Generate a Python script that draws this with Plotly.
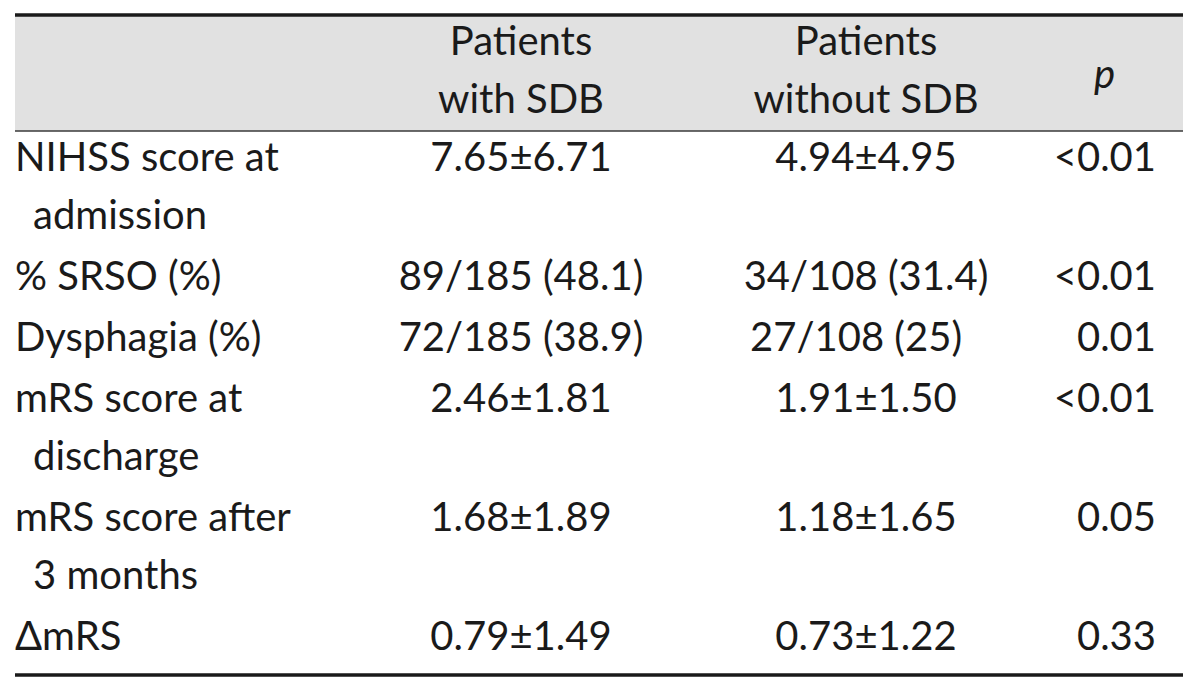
import plotly.graph_objects as go

# table content
header_with = ["Patients", "with SDB"]
header_without = ["Patients", "without SDB"]
header_p = "p"
row_labels = [
    ["NIHSS score at", "admission"],
    ["% SRSO (%)"],
    ["Dysphagia (%)"],
    ["mRS score at", "discharge"],
    ["mRS score after", "3 months"],
    ["ΔmRS"],
]
with_sdb = ["7.65±6.71", "89/185 (48.1)", "72/185 (38.9)", "2.46±1.81", "1.68±1.89", "0.79±1.49"]
without_sdb = ["4.94±4.95", "34/108 (31.4)", "27/108 (25)", "1.91±1.50", "1.18±1.65", "0.73±1.22"]
p_values = ["<0.01", "<0.01", "0.01", "<0.01", "0.05", "0.33"]

# layout constants (pixels of the final page; the html body adds an 8px offset)
W, H = 1200, 692
OFF = 8
LEFT, RIGHT = 15, 1183
TOP, HEAD_BOTTOM, BOTTOM = 15, 131, 675
HEAD_LINES = [45, 103]
FIRST_LINE = 161
LINE_H = 58
ROW_GAP = 3
COL_X = {"label": 15, "indent": 33, "with": 521, "without": 866, "without_left": 750, "p": 1156, "p_head": 1104}
FONT = "Lato, 'Open Sans', sans-serif"
FSIZE = 40
INK = "#1a1a1a"


def tf():
    return dict(family=FONT, size=FSIZE, color=INK)


# y position of the first line of every body row
row_y = []
y = FIRST_LINE
for lines in row_labels:
    row_y.append(y)
    y += LINE_H * len(lines) + ROW_GAP

fig = go.Figure()

# row labels (hanging indent on wrapped lines)
lx, ly, lt = [], [], []
for ys, lines in zip(row_y, row_labels):
    for k, line in enumerate(lines):
        lx.append(COL_X["label"] if k == 0 else COL_X["indent"])
        ly.append(ys + k * LINE_H)
        lt.append(line)
fig.add_trace(go.Scatter(x=lx, y=ly, text=lt, mode="text", textposition="middle right",
                         textfont=tf(), hoverinfo="skip"))

# patients with SDB (centered)
fig.add_trace(go.Scatter(x=[COL_X["with"]] * len(with_sdb), y=row_y, text=with_sdb, mode="text",
                         textposition="middle center", textfont=tf(), hoverinfo="skip"))

# patients without SDB (centered; the short fraction sits flush left as in the source)
wo_pos = ["middle right" if v.startswith("27/") else "middle center" for v in without_sdb]
wo_x = [COL_X["without_left"] if p == "middle right" else COL_X["without"] for p in wo_pos]
fig.add_trace(go.Scatter(x=wo_x, y=row_y, text=without_sdb, mode="text", textposition=wo_pos,
                         textfont=tf(), hoverinfo="skip"))

# p values (right aligned)
fig.add_trace(go.Scatter(x=[COL_X["p"]] * len(p_values), y=row_y, text=p_values, mode="text",
                         textposition="middle left", textfont=tf(), hoverinfo="skip"))

# header
fig.add_trace(go.Scatter(x=[COL_X["with"]] * 2 + [COL_X["without"]] * 2, y=HEAD_LINES * 2,
                         text=header_with + header_without, mode="text",
                         textposition="middle center", textfont=tf(), hoverinfo="skip"))
fig.add_annotation(x=COL_X["p_head"], y=(TOP + HEAD_BOTTOM) / 2, text="<i>" + header_p + "</i>",
                   showarrow=False, xanchor="center", yanchor="middle", font=tf())

# rules and header shading
fig.add_shape(type="rect", x0=LEFT, x1=RIGHT, y0=TOP, y1=HEAD_BOTTOM,
              fillcolor="#e1e1e1", line_width=0, layer="below")
fig.add_shape(type="line", x0=LEFT, x1=RIGHT, y0=TOP, y1=TOP, line=dict(color=INK, width=3.5))
fig.add_shape(type="line", x0=LEFT, x1=RIGHT, y0=HEAD_BOTTOM, y1=HEAD_BOTTOM,
              line=dict(color="#3a3a3a", width=1.5))
fig.add_shape(type="line", x0=LEFT, x1=RIGHT, y0=BOTTOM, y1=BOTTOM, line=dict(color=INK, width=3.5))

fig.update_xaxes(range=[OFF, W + OFF], visible=False, fixedrange=True)
fig.update_yaxes(range=[H + OFF, OFF], visible=False, fixedrange=True)
fig.update_layout(width=W, height=H, margin=dict(l=0, r=0, t=0, b=0),
                  paper_bgcolor="white", plot_bgcolor="white", showlegend=False)

fig.write_html("out.html", config={"displayModeBar": False})
